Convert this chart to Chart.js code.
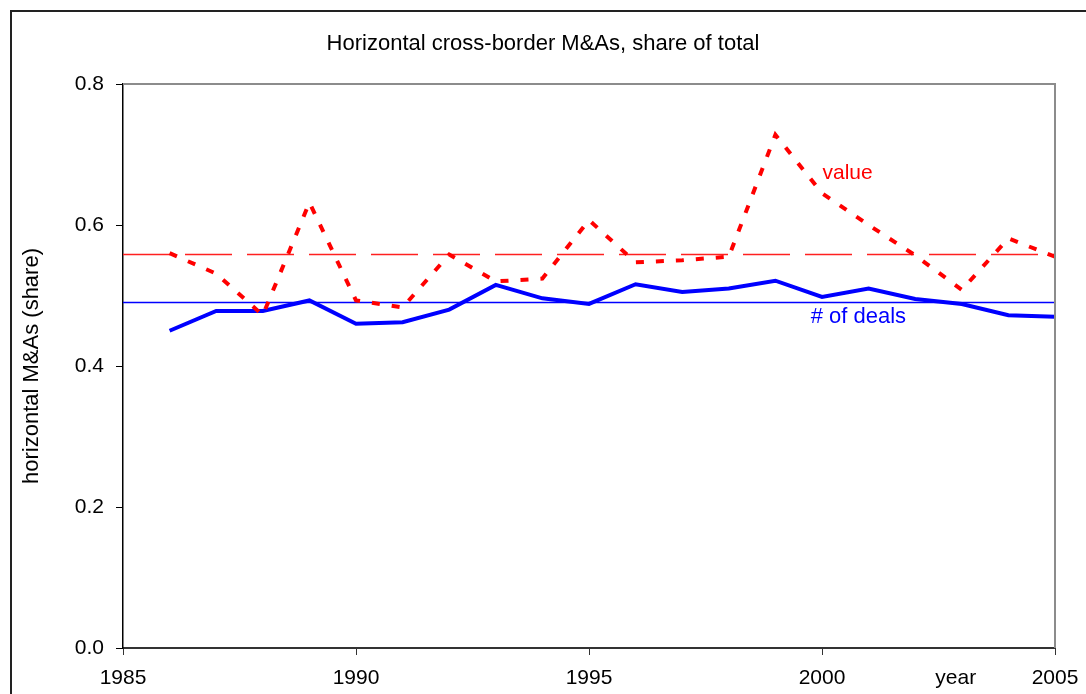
<!DOCTYPE html>
<html>
<head>
<meta charset="utf-8">
<script src="https://cdn.jsdelivr.net/npm/chart.js@4/dist/chart.umd.min.js"></script>
<style>
  html, body { margin: 0; padding: 0; background: #ffffff; }
  #wrap { width: 1086px; height: 694px; position: relative; }
</style>
</head>
<body>
<div id="wrap"><canvas id="c" width="1086" height="694"></canvas></div>
<script>
// ---- data ----
const years = [1986,1987,1988,1989,1990,1991,1992,1993,1994,1995,1996,1997,1998,1999,2000,2001,2002,2003,2004,2005];
const valueShare = [0.560,0.531,0.472,0.632,0.493,0.483,0.558,0.520,0.524,0.607,0.547,0.550,0.555,0.728,0.645,0.600,0.557,0.508,0.581,0.555];
const dealsShare = [0.450,0.478,0.478,0.493,0.460,0.462,0.480,0.515,0.496,0.488,0.516,0.505,0.510,0.521,0.498,0.510,0.495,0.488,0.472,0.470];
const valueMean = 0.558;
const dealsMean = 0.490;
const xRange = [1985, 2005];
const yTicks = [0.0, 0.2, 0.4, 0.6, 0.8];
const titleText = 'Horizontal cross-border M&As, share of total';
const yTitle = 'horizontal M&As (share)';
const xTitle = 'year';
const seriesLabels = ['value', '# of deals'];
const labelAnchors = [[2000.55, 0.674], [2000.78, 0.4695]];

const FONT = '"Liberation Sans", Arial, sans-serif';

const pts = (xs, ys) => xs.map((x, i) => ({x: x, y: ys[i]}));
const flat = v => [{x: xRange[0], y: v}, {x: xRange[1], y: v}];

const extras = {
  id: 'extras',
  beforeDraw(chart) {
    const ctx = chart.ctx;
    ctx.save();
    ctx.fillStyle = '#ffffff';
    ctx.fillRect(0, 0, chart.width, chart.height);
    ctx.strokeStyle = '#222222';
    ctx.lineWidth = 2;
    ctx.strokeRect(11, 11, chart.width + 20, chart.height + 20);
    // title
    ctx.font = '22px ' + FONT;
    ctx.fillStyle = '#000000';
    ctx.textAlign = 'center';
    ctx.textBaseline = 'middle';
    ctx.fillText(titleText, 543, 44);
    ctx.restore();
  },
  afterDatasetsDraw(chart) {
    const ctx = chart.ctx;
    const a = chart.chartArea;
    const xs = chart.scales.x, ys = chart.scales.y;
    ctx.save();
    // plot-area border (top and right)
    ctx.strokeStyle = '#8c8c8c';
    ctx.lineWidth = 2;
    ctx.beginPath();
    ctx.moveTo(a.left, a.top);
    ctx.lineTo(a.right, a.top);
    ctx.lineTo(a.right, a.bottom);
    ctx.stroke();
    // series labels
    ctx.textAlign = 'center';
    ctx.textBaseline = 'middle';
    ctx.font = '21px ' + FONT;
    ctx.fillStyle = '#ff0000';
    ctx.fillText(seriesLabels[0], xs.getPixelForValue(labelAnchors[0][0]), ys.getPixelForValue(labelAnchors[0][1]));
    ctx.font = '22px ' + FONT;
    ctx.fillStyle = '#0000ff';
    ctx.fillText(seriesLabels[1], xs.getPixelForValue(labelAnchors[1][0]), ys.getPixelForValue(labelAnchors[1][1]));
    // x axis title "year"
    ctx.font = '21px ' + FONT;
    ctx.fillStyle = '#000000';
    ctx.fillText(xTitle, xs.getPixelForValue(2002.87), a.bottom + 30);
    ctx.restore();
  }
};

new Chart(document.getElementById('c'), {
  type: 'line',
  data: {
    datasets: [
      { label: 'value mean', data: flat(valueMean), borderColor: '#ff2020', borderWidth: 1.5, borderDash: [47, 15], pointRadius: 0, order: 3 },
      { label: 'deals mean', data: flat(dealsMean), borderColor: '#0000ff', borderWidth: 1.5, pointRadius: 0, order: 4 },
      { label: seriesLabels[0], data: pts(years, valueShare), borderColor: '#ff0000', borderWidth: 4, borderDash: [8, 12], borderCapStyle: 'butt', pointRadius: 0, tension: 0, order: 1 },
      { label: seriesLabels[1], data: pts(years, dealsShare), borderColor: '#0000ff', borderWidth: 4, pointRadius: 0, tension: 0, order: 2 }
    ]
  },
  options: {
    responsive: false,
    animation: false,
    events: [],
    layout: { padding: { left: 0, right: 31, top: 84, bottom: 0 } },
    plugins: {
      legend: { display: false },
      tooltip: { enabled: false },
      title: { display: false }
    },
    scales: {
      x: {
        type: 'linear',
        min: xRange[0], max: xRange[1],
        afterFit(s) { s.height = 46; s.paddingLeft = 0; s.paddingRight = 0; },
        grid: { drawOnChartArea: false, drawTicks: true, tickLength: 7, color: '#333333', lineWidth: 1 },
        border: { display: true, color: '#333333', width: 2 },
        ticks: { stepSize: 5, padding: 11, color: '#000000', font: { family: FONT, size: 21 }, maxRotation: 0, callback: v => String(v) }
      },
      y: {
        min: 0, max: 0.8,
        afterFit(s) { s.width = 123; s.paddingTop = 0; s.paddingBottom = 0; },
        afterBuildTicks(s) { s.ticks = yTicks.map(v => ({value: v})); },
        grid: { drawOnChartArea: false, drawTicks: true, tickLength: 7, color: '#000000', lineWidth: 1 },
        border: { display: true, color: '#000000', width: 1.5 },
        ticks: { padding: 12, color: '#000000', font: { family: FONT, size: 21 }, callback: v => Number(v).toFixed(1) },
        title: { display: true, text: yTitle, color: '#000000', font: { family: FONT, size: 22 }, padding: { top: 19, bottom: 0 } }
      }
    }
  },
  plugins: [extras]
});
</script>
</body>
</html>
